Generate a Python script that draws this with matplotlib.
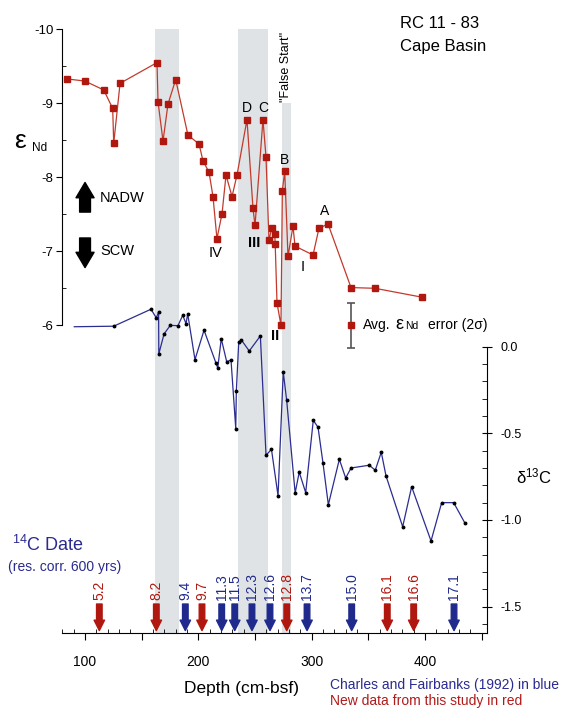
import matplotlib
matplotlib.use('Agg')
import matplotlib.pyplot as plt
import matplotlib.transforms as mtransforms
from matplotlib.ticker import MultipleLocator, FixedLocator, FuncFormatter

plt.rcParams['font.family'] = ['Liberation Sans', 'DejaVu Sans']
plt.rcParams['axes.unicode_minus'] = False

# ---------------- data ----------------
nd_depth = [83.8, 100.0, 116.5, 124.4, 125.3, 130.9, 163.5, 164.4, 168.8, 173.2,
            180.0, 190.8, 200.6, 204.1, 209.4, 212.9, 216.4, 220.9, 224.4, 229.7,
            234.1, 242.9, 248.2, 250.0, 257.0, 259.7, 262.3, 264.7, 267.4, 267.8,
            269.4, 272.9, 274.1, 276.2, 279.1, 283.5, 285.3, 301.2, 306.4, 314.4,
            334.7, 355.9, 397.3]
nd_eps = [-9.33, -9.30, -9.18, -8.93, -8.46, -9.27, -9.55, -9.02, -8.49, -8.99,
          -9.32, -8.57, -8.45, -8.22, -8.07, -7.74, -7.17, -7.51, -8.03, -7.74,
          -8.03, -8.78, -7.58, -7.35, -8.78, -8.27, -7.15, -7.31, -7.23, -7.10,
          -6.30, -6.00, -7.82, -8.08, -6.93, -7.34, -7.07, -6.95, -7.31, -7.37,
          -6.51, -6.50, -6.38]

c_depth = [90.5, 125.3, 158.2, 162.9, 164.9, 165.1, 169.7, 175.2, 182.0, 186.2,
           189.1, 190.6, 197.0, 205.0, 215.6, 217.1, 220.2, 225.0, 228.8, 233.0,
           233.5, 235.6, 237.9, 244.9, 254.7, 259.7, 264.5, 270.3, 274.9, 277.9,
           285.4, 289.0, 294.7, 301.4, 305.6, 310.0, 314.7, 324.4, 330.0, 334.7,
           350.8, 356.1, 361.4, 365.6, 380.3, 388.2, 405.3, 414.7, 425.3, 435.3]
c_d13 = [0.115, 0.118, 0.216, 0.166, 0.200, -0.042, 0.073, 0.123, 0.121, 0.181,
         0.133, 0.189, -0.075, 0.095, -0.096, -0.123, 0.046, -0.087, -0.077, -0.473,
         -0.257, 0.025, 0.039, -0.025, 0.062, -0.627, -0.592, -0.860, -0.146, -0.308,
         -0.844, -0.724, -0.842, -0.425, -0.465, -0.673, -0.912, -0.650, -0.758, -0.700,
         -0.684, -0.713, -0.609, -0.746, -1.039, -0.808, -1.121, -0.900, -0.900, -1.019]

age_depth = [112.6, 162.9, 188.5, 203.2, 220.6, 232.1, 247.3, 263.2, 278.0, 295.9,
             335.3, 366.7, 390.0, 425.6]
age_label = ['5.2', '8.2', '9.4', '9.7', '11.3', '11.5', '12.3', '12.6', '12.8', '13.7',
             '15.0', '16.1', '16.6', '17.1']
age_source = ['new', 'new', 'cf', 'new', 'cf', 'cf', 'cf', 'cf', 'new', 'cf',
              'cf', 'new', 'new', 'cf']

band_start = [161.8, 235.0, 274.1]
band_end = [183.0, 261.4, 281.6]
band_top = [-10.0, -10.0, -9.0]

event_label = ['D', 'C', 'B', 'A']
event_depth = [242.6, 257.0, 275.6, 311.7]
event_eps = [-8.93, -8.93, -8.24, -7.54]

stage_label = ['IV', 'III', 'II', 'I']
stage_depth = [215.6, 249.1, 267.6, 292.3]
stage_eps = [-6.98, -7.11, -5.86, -6.79]
stage_bold = [False, True, True, False]

err_depth = [335.0]
err_eps = [-6.0]
err_size = [0.3]

# ---------------- styling ----------------
W, H, DPI = 569, 711, 100
RED = '#b0170e'
RED_LINE = '#c23a2c'
BLUE = '#2b2d8f'
BLUE_TXT = '#2a2a90'
BAND = '#dfe3e6'

fig = plt.figure(figsize=(W / DPI, H / DPI), dpi=DPI)
left_px, right_px, top_px, bot_px = 61.7, 487.0, 29.3, 633.0
ax = fig.add_axes([left_px / W, 1 - bot_px / H, (right_px - left_px) / W, (bot_px - top_px) / H])
ax.patch.set_visible(False)

ax.set_xlim(79.4, 454.7)
ax.set_ylim(-1.842, -10.0)

# bands
for d0, d1, t in zip(band_start, band_end, band_top):
    ax.fill_betweenx([t, -1.842], d0, d1, color=BAND, lw=0, zorder=0)

# eNd series
ax.plot(nd_depth, nd_eps, color=RED_LINE, lw=0.9, zorder=3)
ax.plot(nd_depth, nd_eps, ls='none', marker='s', ms=5, color=RED, zorder=4)

# error bar
ax.errorbar(err_depth, err_eps, yerr=err_size, fmt='s', ms=5, color=RED,
            ecolor='#555555', elinewidth=1.2, capsize=3, capthick=1.2, zorder=4)
ax.text(345.5, -5.95, 'Avg.', fontsize=10, va='baseline', ha='left')
ax.text(374.0, -5.95, 'ε', fontsize=13, va='baseline', ha='left')
ax.text(382.5, -5.95, 'Nd', fontsize=7.5, va='baseline', ha='left')
ax.text(402.9, -5.95, 'error (2σ)', fontsize=10, va='baseline', ha='left')

# labels on eNd curve
for s, d, e in zip(event_label, event_depth, event_eps):
    ax.text(d, e, s, fontsize=10, ha='center', va='center', zorder=5)
for s, d, e, b in zip(stage_label, stage_depth, stage_eps, stage_bold):
    ax.text(d, e, s, fontsize=10.5, ha='center', va='center',
            fontweight='bold' if b else 'normal', zorder=5)
ax.text(277.1, -9.49, '"False Start"', rotation=90, fontsize=9, ha='center', va='center')

# NADW / SCW arrows
big = 'simple,head_length=1.1,head_width=1.3,tail_width=0.78'
ax.annotate('', xy=(100, -7.93), xytext=(100, -7.53),
            arrowprops=dict(arrowstyle=big, mutation_scale=10, color='black',
                            shrinkA=0, shrinkB=0))
ax.annotate('', xy=(100, -6.78), xytext=(100, -7.18),
            arrowprops=dict(arrowstyle=big, mutation_scale=10, color='black',
                            shrinkA=0, shrinkB=0))
ax.text(113.2, -7.72, 'NADW', fontsize=10.5, ha='left', va='center')
ax.text(113.2, -7.0, 'SCW', fontsize=10.5, ha='left', va='center')

# age arrows
trans = mtransforms.blended_transform_factory(ax.transData, ax.transAxes)
small = 'simple,head_length=0.75,head_width=0.75,tail_width=0.4'
for d, lab, src in zip(age_depth, age_label, age_source):
    c = RED if src == 'new' else '#1f2a8c'
    ax.annotate('', xy=(d, 0.004), xycoords=trans, xytext=(d, 0.048), textcoords=trans,
                arrowprops=dict(arrowstyle=small, mutation_scale=10, color=c,
                                shrinkA=0, shrinkB=0))
    ax.text(d, 0.0547, lab, rotation=90, ha='center', va='bottom', transform=trans,
            color=c, fontsize=10)

# axes styling (left / bottom)
for sp in ['top', 'right']:
    ax.spines[sp].set_visible(False)
ax.spines['left'].set_bounds(-6, -10)
ax.set_yticks([-10, -9, -8, -7, -6])
ax.yaxis.set_minor_locator(FixedLocator([-9.5, -8.5, -7.5, -6.5]))
ax.yaxis.set_major_formatter(FuncFormatter(lambda v, p: '%d' % v))
ax.tick_params(axis='y', which='major', direction='out', length=4, labelsize=9.5, pad=2)
ax.tick_params(axis='y', which='minor', direction='in', length=3)

ax.set_xticks(list(range(100, 451, 50)))
ax.xaxis.set_minor_locator(MultipleLocator(10))
ax.xaxis.set_major_formatter(FuncFormatter(lambda v, p: ('%d' % v) if int(round(v)) % 100 == 0 else ''))
ax.tick_params(axis='x', which='major', direction='out', length=5, labelsize=10, pad=11)
ax.tick_params(axis='x', which='minor', direction='in', length=3)

# d13C axis
ax2 = ax.twinx()
ax2.set_ylim(-1.652, 1.831)
ax2.plot(c_depth, c_d13, color=BLUE, lw=0.9, zorder=3)
ax2.plot(c_depth[1:], c_d13[1:], ls='none', marker='o', ms=1.8, color='black', zorder=4)
for sp in ['top', 'left', 'bottom']:
    ax2.spines[sp].set_visible(False)
ax2.spines['right'].set_bounds(-1.652, 0)
ax2.set_yticks([0.0, -0.5, -1.0, -1.5])
ax2.yaxis.set_minor_locator(FixedLocator([-0.1, -0.2, -0.3, -0.4, -0.6, -0.7, -0.8, -0.9,
                                          -1.1, -1.2, -1.3, -1.4, -1.6]))
ax2.yaxis.set_major_formatter(FuncFormatter(lambda v, p: '%.1f' % v))
ax2.tick_params(axis='y', which='major', direction='inout', length=7, labelsize=9, pad=6)
ax2.tick_params(axis='y', which='minor', direction='in', length=3.5)

# text elements
def fx(px):
    return px / W

def fy(py):
    return 1 - py / H

fig.text(fx(400), fy(23.3), 'RC 11 - 83', fontsize=12, ha='left', va='center')
fig.text(fx(400), fy(46), 'Cape Basin', fontsize=12, ha='left', va='center')
fig.text(fx(14), fy(141), 'ε', fontsize=19, ha='left', va='center')
fig.text(fx(32), fy(148), 'Nd', fontsize=8.5, ha='left', va='center')
fig.text(fx(516), fy(476.7), r'δ$\mathregular{^{13}}$C', fontsize=12, ha='left', va='center')
fig.text(fx(12), fy(545), r'$\mathregular{^{14}}$C Date', fontsize=13, color=BLUE_TXT,
         ha='left', va='center')
fig.text(fx(8), fy(566.7), '(res. corr. 600 yrs)', fontsize=10, color=BLUE_TXT,
         ha='left', va='center')
fig.text(fx(241), fy(689), 'Depth (cm-bsf)', fontsize=12.5, ha='center', va='center')
fig.text(fx(330), fy(685), 'Charles and Fairbanks (1992) in blue', fontsize=10,
         color=BLUE_TXT, ha='left', va='center')
fig.text(fx(330), fy(701), 'New data from this study in red', fontsize=10,
         color='#b01b1b', ha='left', va='center')

fig.savefig('out.png', dpi=DPI)
